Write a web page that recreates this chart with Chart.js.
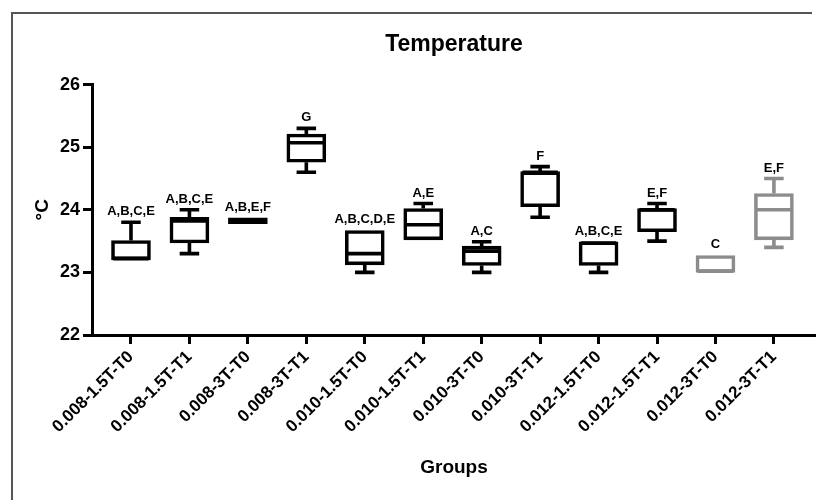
<!DOCTYPE html>
<html>
<head>
<meta charset="utf-8">
<script src="https://cdn.jsdelivr.net/npm/chart.js@4.4.1/dist/chart.umd.min.js"></script>
<style>
  html, body { margin: 0; padding: 0; background: #fff; overflow: hidden; }
  canvas { display: block; }
</style>
</head>
<body>
<canvas id="chart" width="816" height="500"></canvas>
<script>
// groups on the x axis
const categories = ['0.008-1.5T-T0', '0.008-1.5T-T1', '0.008-3T-T0', '0.008-3T-T1',
  '0.010-1.5T-T0', '0.010-1.5T-T1', '0.010-3T-T0', '0.010-3T-T1',
  '0.012-1.5T-T0', '0.012-1.5T-T1', '0.012-3T-T0', '0.012-3T-T1'];

// box plot values (°C)
const mins = [23.2, 23.3, 23.78, 24.6, 23.0, 23.52, 23.0, 23.88, 23.0, 23.5, 23.0, 23.4];
const q1s  = [23.2, 23.47, 23.78, 24.76, 23.12, 23.52, 23.11, 24.05, 23.11, 23.65, 23.0, 23.52];
const meds = [23.22, 23.82, 23.82, 25.07, 23.3, 23.76, 23.34, 24.6, 23.47, 24.0, 23.02, 24.0];
const q3s  = [23.51, 23.88, 23.87, 25.21, 23.67, 24.02, 23.42, 24.61, 23.49, 24.02, 23.27, 24.26];
const maxs = [23.8, 24.0, 23.87, 25.3, 23.67, 24.1, 23.49, 24.69, 23.49, 24.1, 23.27, 24.5];

// significance letters above each box
const letters = ['A,B,C,E', 'A,B,C,E', 'A,B,E,F', 'G', 'A,B,C,D,E', 'A,E', 'A,C', 'F',
  'A,B,C,E', 'E,F', 'C', 'E,F'];

const yTicks = [22, 23, 24, 25, 26];

const FONT = '"Liberation Sans", Arial, sans-serif';
const boxColors = categories.map((c, i) => i >= 10 ? '#8c8c8c' : '#000');
const LW = 3.6;

// outer frame (left and top edges only are in view)
const frame = {
  id: 'frame',
  beforeDraw(chart) {
    const ctx = chart.ctx;
    ctx.save();
    ctx.strokeStyle = '#555';
    ctx.lineWidth = 2;
    ctx.beginPath();
    ctx.moveTo(12, chart.height);
    ctx.lineTo(12, 13);
    ctx.lineTo(812, 13);
    ctx.stroke();
    ctx.restore();
  }
};

// whiskers, medians and letters
const boxExtras = {
  id: 'boxExtras',
  afterDatasetsDraw(chart) {
    const ctx = chart.ctx;
    const xs = chart.scales.x, ys = chart.scales.y;
    const meta = chart.getDatasetMeta(0);
    ctx.save();
    categories.forEach((c, i) => {
      const cx = xs.getPixelForValue(i);
      const half = meta.data[i].width / 2;
      const capHalf = half / 2;
      ctx.strokeStyle = boxColors[i];
      ctx.lineWidth = LW;
      ctx.beginPath();
      if (maxs[i] > q3s[i]) {
        ctx.moveTo(cx, ys.getPixelForValue(q3s[i]));
        ctx.lineTo(cx, ys.getPixelForValue(maxs[i]));
        ctx.moveTo(cx - capHalf, ys.getPixelForValue(maxs[i]));
        ctx.lineTo(cx + capHalf, ys.getPixelForValue(maxs[i]));
      }
      if (mins[i] < q1s[i]) {
        ctx.moveTo(cx, ys.getPixelForValue(q1s[i]));
        ctx.lineTo(cx, ys.getPixelForValue(mins[i]));
        ctx.moveTo(cx - capHalf, ys.getPixelForValue(mins[i]));
        ctx.lineTo(cx + capHalf, ys.getPixelForValue(mins[i]));
      }
      // median
      ctx.moveTo(cx - half + LW / 2, ys.getPixelForValue(meds[i]));
      ctx.lineTo(cx + half - LW / 2, ys.getPixelForValue(meds[i]));
      ctx.stroke();

      ctx.fillStyle = '#000';
      ctx.font = 'bold 13px ' + FONT;
      ctx.textAlign = 'center';
      ctx.textBaseline = 'alphabetic';
      ctx.fillText(letters[i], cx, ys.getPixelForValue(maxs[i]) - 7);
    });
    ctx.restore();
  }
};

new Chart(document.getElementById('chart'), {
  type: 'bar',
  data: {
    datasets: [{
      data: categories.map((c, i) => ({ x: i, y: [q1s[i], q3s[i]] })),
      backgroundColor: '#fff',
      borderColor: boxColors,
      borderWidth: LW,
      borderSkipped: false,
      barThickness: 39
    }]
  },
  options: {
    responsive: false,
    animation: false,
    layout: { padding: 0 },
    plugins: {
      legend: { display: false },
      tooltip: { enabled: false },
      title: {
        display: true,
        fullSize: false,
        text: 'Temperature',
        color: '#000',
        font: { family: FONT, size: 23, weight: 'bold' },
        padding: { top: 31, bottom: 26 }
      }
    },
    scales: {
      x: {
        type: 'linear',
        min: -0.667,
        max: 11.72,
        offset: false,
        afterFit: s => { s.height = 165; },
        afterBuildTicks: s => { s.ticks = categories.map((c, i) => ({ value: i })); },
        grid: { offset: false, drawOnChartArea: false, tickLength: 9, tickWidth: 3, color: '#000' },
        border: { display: true, width: 3, color: '#000' },
        ticks: {
          autoSkip: false,
          minRotation: 45,
          maxRotation: 45,
          padding: 3,
          color: '#000',
          font: { family: FONT, size: 17, weight: 'bold' },
          callback: v => categories[v]
        },
        title: {
          display: true,
          text: 'Groups',
          color: '#000',
          font: { family: FONT, size: 19, weight: 'bold' },
          padding: { top: 0, bottom: 21 }
        }
      },
      y: {
        min: 22,
        max: 26,
        afterFit: s => { s.width = 92; },
        afterBuildTicks: s => { s.ticks = yTicks.map(v => ({ value: v })); },
        grid: { drawOnChartArea: false, tickLength: 9, tickWidth: 3, color: '#000' },
        border: { display: true, width: 3, color: '#000' },
        ticks: {
          padding: 3,
          color: '#000',
          font: { family: FONT, size: 18, weight: 'bold' }
        },
        title: {
          display: true,
          text: '°C',
          color: '#000',
          font: { family: FONT, size: 19, weight: 'bold' },
          padding: { top: 31, bottom: 0 }
        }
      }
    }
  },
  plugins: [frame, boxExtras]
});
</script>
</body>
</html>
